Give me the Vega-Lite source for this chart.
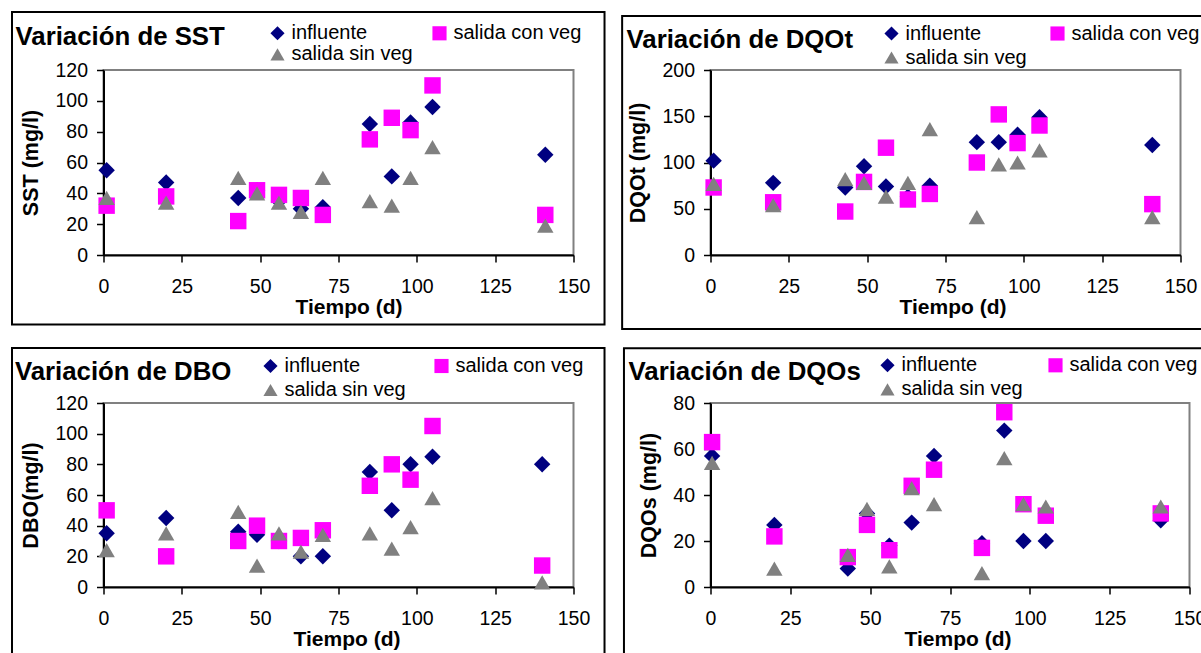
{
  "$schema": "https://vega.github.io/schema/vega-lite/v6.json",
  "background": "white",
  "padding": {"left": 9.5, "top": 10, "right": 0, "bottom": 0},
  "bounds": "flush",
  "columns": 2,
  "spacing": {"row": 148, "column": 137},
  "resolve": {"scale": {"color": "independent", "shape": "independent"}, "legend": {"color": "independent", "shape": "independent"}},
  "config": {
    "font": "Liberation Sans",
    "view": {"stroke": "#808080", "strokeWidth": 2},
    "axis": {"domainColor": "#000000", "domainWidth": 2, "tickColor": "#000000", "tickWidth": 1.5, "tickSize": 7, "labelColor": "#000000", "labelFontSize": 19.5, "labelFont": "Liberation Sans", "titleColor": "#000000", "titleFont": "Liberation Sans", "titleFontWeight": "bold", "grid": false, "labelPadding": 9, "labelOverlap": false, "labelSeparation": -15, "labelFlush": false, "labelBound": false},
    "axisX": {"titleFontSize": 21, "titlePadding": 1, "labelPadding": 15},
    "axisY": {"titleFontSize": 21.5, "titlePadding": 12},
    "legend": {"labelFontSize": 20, "labelFont": "Liberation Sans", "labelColor": "#000000", "symbolSize": 200, "labelOffset": 4, "padding": 0, "symbolStrokeWidth": 0, "orient": "none", "columns": 2, "direction": "horizontal", "title": null},
    "title": {"font": "Liberation Sans", "fontSize": 25.8, "fontWeight": "bold", "color": "#000000", "anchor": "start", "frame": "group", "baseline": "alphabetic"}
  },
  "datasets": {
    "sst": [
      {"dia": 1, "valor": 55, "serie": "influente"},
      {"dia": 20, "valor": 47, "serie": "influente"},
      {"dia": 43, "valor": 37, "serie": "influente"},
      {"dia": 49, "valor": 42, "serie": "influente"},
      {"dia": 56, "valor": 35, "serie": "influente"},
      {"dia": 63, "valor": 30, "serie": "influente"},
      {"dia": 70, "valor": 31, "serie": "influente"},
      {"dia": 85, "valor": 85, "serie": "influente"},
      {"dia": 92, "valor": 51, "serie": "influente"},
      {"dia": 98, "valor": 86, "serie": "influente"},
      {"dia": 105, "valor": 96, "serie": "influente"},
      {"dia": 141, "valor": 65, "serie": "influente"},
      {"dia": 1, "valor": 32, "serie": "salida con veg"},
      {"dia": 20, "valor": 38, "serie": "salida con veg"},
      {"dia": 43, "valor": 22, "serie": "salida con veg"},
      {"dia": 49, "valor": 42, "serie": "salida con veg"},
      {"dia": 56, "valor": 39, "serie": "salida con veg"},
      {"dia": 63, "valor": 37, "serie": "salida con veg"},
      {"dia": 70, "valor": 26, "serie": "salida con veg"},
      {"dia": 85, "valor": 75, "serie": "salida con veg"},
      {"dia": 92, "valor": 89, "serie": "salida con veg"},
      {"dia": 98, "valor": 81, "serie": "salida con veg"},
      {"dia": 105, "valor": 110, "serie": "salida con veg"},
      {"dia": 141, "valor": 26, "serie": "salida con veg"},
      {"dia": 1, "valor": 37, "serie": "salida sin veg"},
      {"dia": 20, "valor": 34, "serie": "salida sin veg"},
      {"dia": 43, "valor": 50, "serie": "salida sin veg"},
      {"dia": 49, "valor": 40, "serie": "salida sin veg"},
      {"dia": 56, "valor": 34, "serie": "salida sin veg"},
      {"dia": 63, "valor": 28, "serie": "salida sin veg"},
      {"dia": 70, "valor": 50, "serie": "salida sin veg"},
      {"dia": 85, "valor": 35, "serie": "salida sin veg"},
      {"dia": 92, "valor": 32, "serie": "salida sin veg"},
      {"dia": 98, "valor": 50, "serie": "salida sin veg"},
      {"dia": 105, "valor": 70, "serie": "salida sin veg"},
      {"dia": 141, "valor": 19, "serie": "salida sin veg"}
    ],
    "dqot": [
      {"dia": 1, "valor": 102, "serie": "influente"},
      {"dia": 20, "valor": 78, "serie": "influente"},
      {"dia": 43, "valor": 73, "serie": "influente"},
      {"dia": 49, "valor": 96, "serie": "influente"},
      {"dia": 56, "valor": 74, "serie": "influente"},
      {"dia": 63, "valor": 63, "serie": "influente"},
      {"dia": 70, "valor": 75, "serie": "influente"},
      {"dia": 85, "valor": 122, "serie": "influente"},
      {"dia": 92, "valor": 122, "serie": "influente"},
      {"dia": 98, "valor": 130, "serie": "influente"},
      {"dia": 105, "valor": 149, "serie": "influente"},
      {"dia": 141, "valor": 119, "serie": "influente"},
      {"dia": 1, "valor": 73, "serie": "salida con veg"},
      {"dia": 20, "valor": 57, "serie": "salida con veg"},
      {"dia": 43, "valor": 47, "serie": "salida con veg"},
      {"dia": 49, "valor": 79, "serie": "salida con veg"},
      {"dia": 56, "valor": 116, "serie": "salida con veg"},
      {"dia": 63, "valor": 60, "serie": "salida con veg"},
      {"dia": 70, "valor": 66, "serie": "salida con veg"},
      {"dia": 85, "valor": 100, "serie": "salida con veg"},
      {"dia": 92, "valor": 152, "serie": "salida con veg"},
      {"dia": 98, "valor": 121, "serie": "salida con veg"},
      {"dia": 105, "valor": 140, "serie": "salida con veg"},
      {"dia": 141, "valor": 55, "serie": "salida con veg"},
      {"dia": 1, "valor": 77, "serie": "salida sin veg"},
      {"dia": 20, "valor": 54, "serie": "salida sin veg"},
      {"dia": 43, "valor": 82, "serie": "salida sin veg"},
      {"dia": 49, "valor": 78, "serie": "salida sin veg"},
      {"dia": 56, "valor": 63, "serie": "salida sin veg"},
      {"dia": 63, "valor": 78, "serie": "salida sin veg"},
      {"dia": 70, "valor": 136, "serie": "salida sin veg"},
      {"dia": 85, "valor": 41, "serie": "salida sin veg"},
      {"dia": 92, "valor": 98, "serie": "salida sin veg"},
      {"dia": 98, "valor": 100, "serie": "salida sin veg"},
      {"dia": 105, "valor": 113, "serie": "salida sin veg"},
      {"dia": 141, "valor": 41, "serie": "salida sin veg"}
    ],
    "dbo": [
      {"dia": 1, "valor": 35, "serie": "influente"},
      {"dia": 20, "valor": 45, "serie": "influente"},
      {"dia": 43, "valor": 36, "serie": "influente"},
      {"dia": 49, "valor": 34, "serie": "influente"},
      {"dia": 56, "valor": 30, "serie": "influente"},
      {"dia": 63, "valor": 20, "serie": "influente"},
      {"dia": 70, "valor": 20, "serie": "influente"},
      {"dia": 85, "valor": 75, "serie": "influente"},
      {"dia": 92, "valor": 50, "serie": "influente"},
      {"dia": 98, "valor": 80, "serie": "influente"},
      {"dia": 105, "valor": 85, "serie": "influente"},
      {"dia": 140, "valor": 80, "serie": "influente"},
      {"dia": 1, "valor": 50, "serie": "salida con veg"},
      {"dia": 20, "valor": 20, "serie": "salida con veg"},
      {"dia": 43, "valor": 30, "serie": "salida con veg"},
      {"dia": 49, "valor": 40, "serie": "salida con veg"},
      {"dia": 56, "valor": 30, "serie": "salida con veg"},
      {"dia": 63, "valor": 32, "serie": "salida con veg"},
      {"dia": 70, "valor": 37, "serie": "salida con veg"},
      {"dia": 85, "valor": 66, "serie": "salida con veg"},
      {"dia": 92, "valor": 80, "serie": "salida con veg"},
      {"dia": 98, "valor": 70, "serie": "salida con veg"},
      {"dia": 105, "valor": 105, "serie": "salida con veg"},
      {"dia": 140, "valor": 14, "serie": "salida con veg"},
      {"dia": 1, "valor": 24, "serie": "salida sin veg"},
      {"dia": 20, "valor": 35, "serie": "salida sin veg"},
      {"dia": 43, "valor": 49, "serie": "salida sin veg"},
      {"dia": 49, "valor": 14, "serie": "salida sin veg"},
      {"dia": 56, "valor": 35, "serie": "salida sin veg"},
      {"dia": 63, "valor": 23, "serie": "salida sin veg"},
      {"dia": 70, "valor": 34, "serie": "salida sin veg"},
      {"dia": 85, "valor": 35, "serie": "salida sin veg"},
      {"dia": 92, "valor": 25, "serie": "salida sin veg"},
      {"dia": 98, "valor": 39, "serie": "salida sin veg"},
      {"dia": 105, "valor": 58, "serie": "salida sin veg"},
      {"dia": 140, "valor": 3, "serie": "salida sin veg"}
    ],
    "dqos": [
      {"dia": 0.5, "valor": 57, "serie": "influente"},
      {"dia": 20, "valor": 27, "serie": "influente"},
      {"dia": 43, "valor": 8, "serie": "influente"},
      {"dia": 49, "valor": 32, "serie": "influente"},
      {"dia": 56, "valor": 18, "serie": "influente"},
      {"dia": 63, "valor": 28, "serie": "influente"},
      {"dia": 70, "valor": 57, "serie": "influente"},
      {"dia": 85, "valor": 19, "serie": "influente"},
      {"dia": 92, "valor": 68, "serie": "influente"},
      {"dia": 98, "valor": 20, "serie": "influente"},
      {"dia": 105, "valor": 20, "serie": "influente"},
      {"dia": 141, "valor": 29, "serie": "influente"},
      {"dia": 0.5, "valor": 63, "serie": "salida con veg"},
      {"dia": 20, "valor": 22, "serie": "salida con veg"},
      {"dia": 43, "valor": 13, "serie": "salida con veg"},
      {"dia": 49, "valor": 27, "serie": "salida con veg"},
      {"dia": 56, "valor": 16, "serie": "salida con veg"},
      {"dia": 63, "valor": 44, "serie": "salida con veg"},
      {"dia": 70, "valor": 51, "serie": "salida con veg"},
      {"dia": 85, "valor": 17, "serie": "salida con veg"},
      {"dia": 92, "valor": 76, "serie": "salida con veg"},
      {"dia": 98, "valor": 36, "serie": "salida con veg"},
      {"dia": 105, "valor": 31, "serie": "salida con veg"},
      {"dia": 141, "valor": 32, "serie": "salida con veg"},
      {"dia": 0.5, "valor": 54, "serie": "salida sin veg"},
      {"dia": 20, "valor": 8, "serie": "salida sin veg"},
      {"dia": 43, "valor": 14, "serie": "salida sin veg"},
      {"dia": 49, "valor": 34, "serie": "salida sin veg"},
      {"dia": 56, "valor": 9, "serie": "salida sin veg"},
      {"dia": 63, "valor": 43, "serie": "salida sin veg"},
      {"dia": 70, "valor": 36, "serie": "salida sin veg"},
      {"dia": 85, "valor": 6, "serie": "salida sin veg"},
      {"dia": 92, "valor": 56, "serie": "salida sin veg"},
      {"dia": 98, "valor": 36, "serie": "salida sin veg"},
      {"dia": 105, "valor": 35, "serie": "salida sin veg"},
      {"dia": 141, "valor": 35, "serie": "salida sin veg"}
    ],
    "marco": [{"panel": 1}]
  },
  "concat": [
    {
      "width": 470, "height": 185,
      "title": {"text": "Variación de SST", "dx": -88, "offset": -39.7},
      "layer": [
        {
          "data": {"name": "sst"},
          "mark": {"type": "point", "filled": true, "opacity": 1, "size": 270},
          "encoding": {
            "x": {"field": "dia", "type": "quantitative", "scale": {"domain": [0, 150], "nice": false, "zero": false}, "axis": {"values": [0, 25, 50, 75, 100, 125, 150], "title": "Tiempo (d)", "titleX": 245, "labelOverlap": false}},
            "y": {"field": "valor", "type": "quantitative", "scale": {"domain": [0, 120], "nice": false}, "axis": {"values": [0, 20, 40, 60, 80, 100, 120], "title": "SST (mg/l)", "labelOverlap": false}},
            "shape": {"field": "serie", "type": "nominal", "scale": {"domain": ["influente", "salida con veg", "salida sin veg"], "range": ["diamond", "square", "triangle-up"]}, "legend": {"legendX": 164, "legendY": -46.7, "columnPadding": 16, "rowPadding": 1}},
            "color": {"field": "serie", "type": "nominal", "scale": {"domain": ["influente", "salida con veg", "salida sin veg"], "range": ["#000080", "#FF00FF", "#808080"]}, "legend": {"legendX": 164, "legendY": -46.7, "columnPadding": 16, "rowPadding": 1}}
          }
        },
        {
          "data": {"name": "marco"},
          "mark": {"type": "rect", "fillOpacity": 0, "stroke": "#000000", "strokeWidth": 2},
          "encoding": {
            "x": {"datum": -29.2, "type": "quantitative", "scale": {"domain": [0, 150], "nice": false, "zero": false}, "axis": {"values": [0, 25, 50, 75, 100, 125, 150], "title": "Tiempo (d)", "titleX": 245, "labelOverlap": false}},
            "x2": {"datum": 159.9},
            "y": {"datum": 157.6, "type": "quantitative", "scale": {"domain": [0, 120], "nice": false}, "axis": {"values": [0, 20, 40, 60, 80, 100, 120], "title": "SST (mg/l)", "labelOverlap": false}},
            "y2": {"datum": -45.1}
          }
        }
      ]
    },
    {
      "width": 470, "height": 185,
      "title": {"text": "Variación de DQOt", "dx": -84, "offset": -39},
      "layer": [
        {
          "data": {"name": "dqot"},
          "mark": {"type": "point", "filled": true, "opacity": 1, "size": 270},
          "encoding": {
            "x": {"field": "dia", "type": "quantitative", "scale": {"domain": [0, 150], "nice": false, "zero": false}, "axis": {"values": [0, 25, 50, 75, 100, 125, 150], "title": "Tiempo (d)", "titleX": 242, "labelOverlap": false}},
            "y": {"field": "valor", "type": "quantitative", "scale": {"domain": [0, 200], "nice": false}, "axis": {"values": [0, 50, 100, 150, 200], "title": "DQOt (mg/l)", "labelOverlap": false}},
            "shape": {"field": "serie", "type": "nominal", "scale": {"domain": ["influente", "salida con veg", "salida sin veg"], "range": ["diamond", "square", "triangle-up"]}, "legend": {"legendX": 171, "legendY": -46.5, "columnPadding": 20, "rowPadding": 4}},
            "color": {"field": "serie", "type": "nominal", "scale": {"domain": ["influente", "salida con veg", "salida sin veg"], "range": ["#000080", "#FF00FF", "#808080"]}, "legend": {"legendX": 171, "legendY": -46.5, "columnPadding": 20, "rowPadding": 4}}
          }
        },
        {
          "data": {"name": "marco"},
          "mark": {"type": "rect", "fillOpacity": 0, "stroke": "#000000", "strokeWidth": 2},
          "encoding": {
            "x": {"datum": -28.2, "type": "quantitative", "scale": {"domain": [0, 150], "nice": false, "zero": false}, "axis": {"values": [0, 25, 50, 75, 100, 125, 150], "title": "Tiempo (d)", "titleX": 242, "labelOverlap": false}},
            "x2": {"datum": 160},
            "y": {"datum": 258.4, "type": "quantitative", "scale": {"domain": [0, 200], "nice": false}, "axis": {"values": [0, 50, 100, 150, 200], "title": "DQOt (mg/l)", "labelOverlap": false}},
            "y2": {"datum": -80}
          }
        }
      ]
    },
    {
      "width": 470, "height": 184,
      "title": {"text": "Variación de DBO", "dx": -88.6, "offset": -38.5},
      "layer": [
        {
          "data": {"name": "dbo"},
          "mark": {"type": "point", "filled": true, "opacity": 1, "size": 270},
          "encoding": {
            "x": {"field": "dia", "type": "quantitative", "scale": {"domain": [0, 150], "nice": false, "zero": false}, "axis": {"values": [0, 25, 50, 75, 100, 125, 150], "title": "Tiempo (d)", "titleX": 243, "labelOverlap": false}},
            "y": {"field": "valor", "type": "quantitative", "scale": {"domain": [0, 120], "nice": false}, "axis": {"values": [0, 20, 40, 60, 80, 100, 120], "title": "DBO(mg/l)", "labelOverlap": false}},
            "shape": {"field": "serie", "type": "nominal", "scale": {"domain": ["influente", "salida con veg", "salida sin veg"], "range": ["diamond", "square", "triangle-up"]}, "legend": {"legendX": 157, "legendY": -47, "columnPadding": 25, "rowPadding": 4}},
            "color": {"field": "serie", "type": "nominal", "scale": {"domain": ["influente", "salida con veg", "salida sin veg"], "range": ["#000080", "#FF00FF", "#808080"]}, "legend": {"legendX": 157, "legendY": -47, "columnPadding": 25, "rowPadding": 4}}
          }
        },
        {
          "data": {"name": "marco"},
          "mark": {"type": "rect", "fillOpacity": 0, "stroke": "#000000", "strokeWidth": 2},
          "encoding": {
            "x": {"datum": -29.2, "type": "quantitative", "scale": {"domain": [0, 150], "nice": false, "zero": false}, "axis": {"values": [0, 25, 50, 75, 100, 125, 150], "title": "Tiempo (d)", "titleX": 243, "labelOverlap": false}},
            "x2": {"datum": 159.9},
            "y": {"datum": 155.9, "type": "quantitative", "scale": {"domain": [0, 120], "nice": false}, "axis": {"values": [0, 20, 40, 60, 80, 100, 120], "title": "DBO(mg/l)", "labelOverlap": false}},
            "y2": {"datum": -50}
          }
        }
      ]
    },
    {
      "width": 479, "height": 184,
      "title": {"text": "Variación de DQOs", "dx": -82, "offset": -38.2},
      "layer": [
        {
          "data": {"name": "dqos"},
          "mark": {"type": "point", "filled": true, "opacity": 1, "size": 270},
          "encoding": {
            "x": {"field": "dia", "type": "quantitative", "scale": {"domain": [0, 150], "nice": false, "zero": false}, "axis": {"values": [0, 25, 50, 75, 100, 125, 150], "title": "Tiempo (d)", "titleX": 247, "labelOverlap": false}},
            "y": {"field": "valor", "type": "quantitative", "scale": {"domain": [0, 80], "nice": false}, "axis": {"values": [0, 20, 40, 60, 80], "title": "DQOs (mg/l)", "labelOverlap": false}},
            "shape": {"field": "serie", "type": "nominal", "scale": {"domain": ["influente", "salida con veg", "salida sin veg"], "range": ["diamond", "square", "triangle-up"]}, "legend": {"legendX": 167, "legendY": -47.7, "columnPadding": 22, "rowPadding": 4}},
            "color": {"field": "serie", "type": "nominal", "scale": {"domain": ["influente", "salida con veg", "salida sin veg"], "range": ["#000080", "#FF00FF", "#808080"]}, "legend": {"legendX": 167, "legendY": -47.7, "columnPadding": 22, "rowPadding": 4}}
          }
        },
        {
          "data": {"name": "marco"},
          "mark": {"type": "rect", "fillOpacity": 0, "stroke": "#000000", "strokeWidth": 2},
          "encoding": {
            "x": {"datum": -27.1, "type": "quantitative", "scale": {"domain": [0, 150], "nice": false, "zero": false}, "axis": {"values": [0, 25, 50, 75, 100, 125, 150], "title": "Tiempo (d)", "titleX": 247, "labelOverlap": false}},
            "x2": {"datum": 160},
            "y": {"datum": 103.8, "type": "quantitative", "scale": {"domain": [0, 80], "nice": false}, "axis": {"values": [0, 20, 40, 60, 80], "title": "DQOs (mg/l)", "labelOverlap": false}},
            "y2": {"datum": -45}
          }
        }
      ]
    }
  ]
}
